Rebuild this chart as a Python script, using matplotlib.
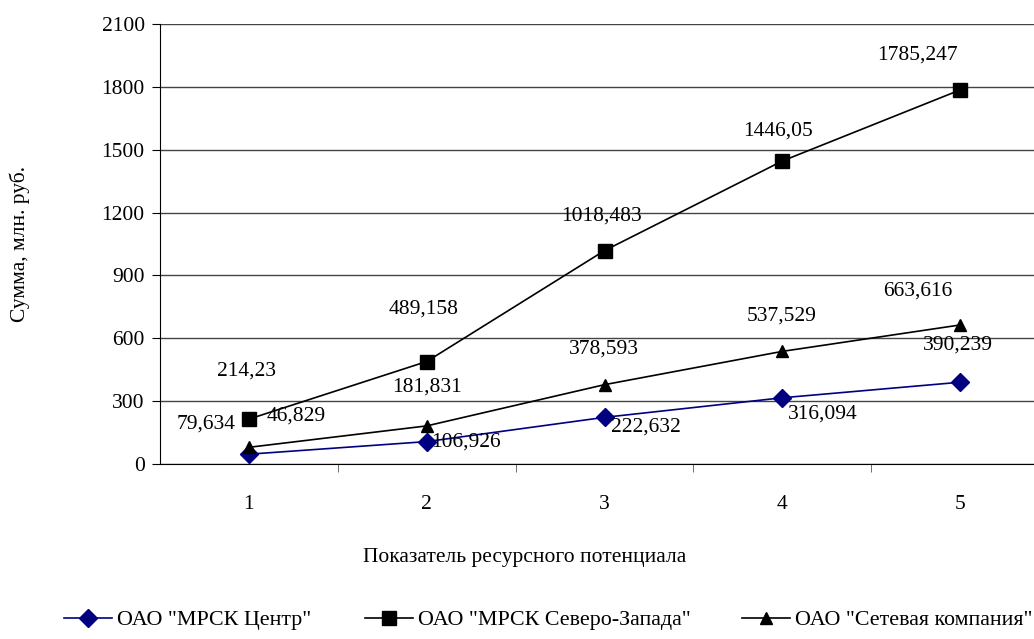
import matplotlib
matplotlib.use("Agg")
import matplotlib.pyplot as plt

plt.rcParams['font.family'] = ['Liberation Serif', 'DejaVu Serif']

x = [1, 2, 3, 4, 5]
names = ['ОАО "МРСК Центр"', 'ОАО "МРСК Северо-Запада"', 'ОАО "Сетевая компания"']
centr = [46.829, 106.926, 222.632, 316.094, 390.239]
sever = [214.23, 489.158, 1018.483, 1446.05, 1785.247]
setev = [79.634, 181.831, 378.593, 537.529, 663.616]

# label offsets in pixels (Excel labels were moved around by hand)
off_centr = [(47, 38), (39, 0), (41, -10), (40, -16), (-2, 37)]
off_sever = [(-2, 48), (-3, 52), (-3, 35), (-4, 30), (-43, 35)]
off_setev = [(-43, 23), (0, 39), (-1, 36), (-1, 35), (-42, 34)]

fig = plt.figure(figsize=(10.34, 6.39), dpi=100)
ax = fig.add_axes([160/1034, 1-464/639, 889/1034, 440/639])

l1, = ax.plot(x, centr, color='#000080', lw=1.2, marker='D', ms=9, label=names[0])
l2, = ax.plot(x, sever, color='black', lw=1.2, marker='s', ms=10, label=names[1])
l3, = ax.plot(x, setev, color='black', lw=1.2, marker='^', ms=9, label=names[2])

fs = 15.5
for vals, offs in [(centr, off_centr), (sever, off_sever), (setev, off_setev)]:
    for xi, v, o in zip(x, vals, offs):
        ax.annotate(str(v).replace('.', ','), (xi, v), xytext=o,
                    textcoords='offset pixels', ha='center', va='center', fontsize=fs)

ax.set_xlim(0.5, 5.5)
ax.set_ylim(0, 2100)
ax.set_yticks(range(0, 2101, 300))
ax.set_xticks(x)
ax.set_xticks([1.5, 2.5, 3.5, 4.5], minor=True)
ax.tick_params(axis='x', which='major', length=0, pad=22, labelsize=fs)
ax.tick_params(axis='x', which='minor', length=6, direction='out', color='#555555')
ax.tick_params(axis='y', length=6, direction='out', labelsize=fs, pad=5)
ax.grid(axis='y', color='#444444', lw=1)
ax.set_axisbelow(True)
for s in ['top', 'right']:
    ax.spines[s].set_visible(False)

ax.set_xlabel('Показатель ресурсного потенциала', fontsize=fs)
ax.xaxis.set_label_coords((525-160)/889, -(548-464)/440)
ax.set_ylabel('Сумма, млн. руб.', fontsize=fs)
ax.yaxis.set_label_coords(-(160-30)/889, 0.5)

# three legend entries laid out like the Excel legend
for line, xpos in [(l1, 64/1034), (l2, 365/1034), (l3, 742/1034)]:
    fig.legend(handles=[line], loc='center left', bbox_to_anchor=(xpos, 1-620/639),
               frameon=False, fontsize=15.8, handlelength=2.2, handletextpad=0.2,
               borderpad=0, borderaxespad=0)

fig.savefig('out.png', dpi=100)
